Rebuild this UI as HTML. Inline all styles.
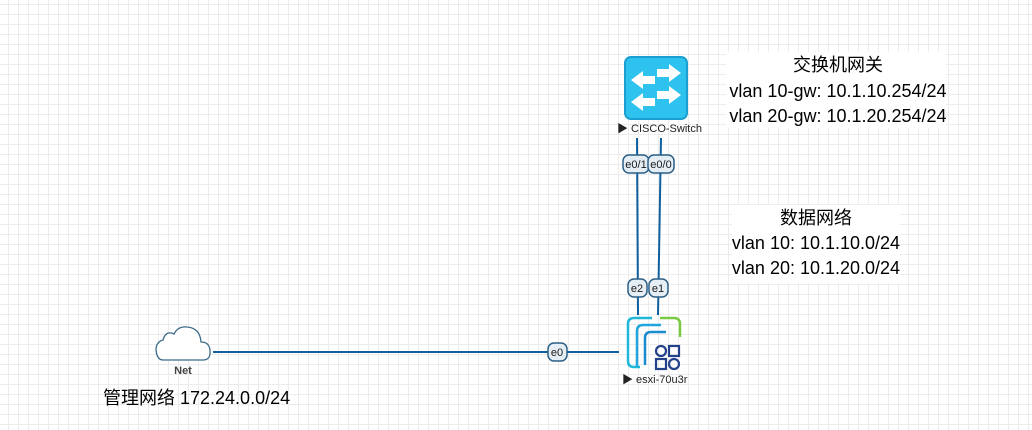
<!DOCTYPE html>
<html><head><meta charset="utf-8"><style>
html,body{margin:0;padding:0;}
body{width:1032px;height:430px;overflow:hidden;background-color:#fff;
background-image:linear-gradient(to right,#ececec 1px,transparent 1px),linear-gradient(to bottom,#ececec 1px,transparent 1px);
background-size:10px 10px;background-position:8px 4px;font-family:"Liberation Sans","Noto Sans CJK SC",sans-serif;}
svg{position:absolute;left:0;top:0;}
</style></head><body>
<svg width="1032" height="430" xmlns="http://www.w3.org/2000/svg" font-family="Liberation Sans, Noto Sans CJK SC, sans-serif">
<rect x="726" y="52" width="220" height="76" fill="#fff"/>
<text x="838" y="71" font-size="18" text-anchor="middle" fill="#000">交换机网关</text>
<text x="838" y="97" font-size="18" text-anchor="middle" fill="#000">vlan 10-gw: 10.1.10.254/24</text>
<text x="838" y="122" font-size="18" text-anchor="middle" fill="#000">vlan 20-gw: 10.1.20.254/24</text>
<rect x="732" y="205" width="168" height="78" fill="#fff"/>
<text x="816" y="224" font-size="18" text-anchor="middle" fill="#000">数据网络</text>
<text x="816" y="249" font-size="18" text-anchor="middle" fill="#000">vlan 10: 10.1.10.0/24</text>
<text x="816" y="274" font-size="18" text-anchor="middle" fill="#000">vlan 20: 10.1.20.0/24</text>
<g stroke="#10609f" stroke-width="2" fill="none">
<line x1="637" y1="138" x2="638" y2="315"/>
<line x1="661" y1="138" x2="658" y2="315"/>
<line x1="213" y1="352" x2="619" y2="352"/>
</g>
<g font-size="11" text-anchor="middle" fill="#1a1a1a" font-weight="bold">
<rect x="623" y="155" width="26" height="18" rx="6" fill="#e6eef5" stroke="#2c5f85" stroke-width="1.5"/>
<rect x="648" y="155" width="26" height="18" rx="6" fill="#e6eef5" stroke="#2c5f85" stroke-width="1.5"/>
<text x="636" y="168" font-weight="normal">e0/1</text><text x="661" y="168" font-weight="normal">e0/0</text>
<rect x="628" y="279" width="19" height="18" rx="6" fill="#e6eef5" stroke="#2c5f85" stroke-width="1.5"/>
<rect x="649" y="279" width="19" height="18" rx="6" fill="#e6eef5" stroke="#2c5f85" stroke-width="1.5"/>
<text x="637" y="292" font-weight="normal">e2</text><text x="658" y="292" font-weight="normal">e1</text>
<rect x="548" y="343" width="19" height="18" rx="6" fill="#e6eef5" stroke="#2c5f85" stroke-width="1.5"/>
<text x="557" y="356" font-weight="normal">e0</text>
</g>
<rect x="625" y="57" width="62" height="62" rx="6" fill="#2ec3ee" stroke="#1a9fd0" stroke-width="2"/>
<g fill="#fff">
<polygon points="631,80 643,71 643,76 655,76 655,84 643,84 643,89"/>
<polygon points="681,73 669,64 669,69 657,69 657,77 669,77 669,82"/>
<polygon points="631,102 643,93 643,98 655,98 655,106 643,106 643,111"/>
<polygon points="681,95 669,86 669,91 657,91 657,99 669,99 669,104"/>
</g>
<text x="617" y="132" font-size="11" fill="#222">▶ CISCO-Switch</text>
<g fill="none" stroke-width="2.5">
<path d="M652,318 H634 Q628,318 628,324 V361 Q628,367 634,367 H640" stroke="#1fb8d9"/>
<path d="M660,318 H674 Q680,318 680,324 V337" stroke="#7ac943"/>
<path d="M637,367 V331 Q637,325 643,325 H661" stroke="#1fa6de"/>
<path d="M645,365 V338 Q645,332 651,332 H666" stroke="#1b8bd0"/>
<circle cx="661" cy="351" r="5" stroke="#24418c" stroke-width="2.2"/>
<rect x="669" y="346" width="10" height="10" stroke="#24418c" stroke-width="2.2"/>
<rect x="656" y="359" width="10" height="10" stroke="#24418c" stroke-width="2.2"/>
<circle cx="674" cy="364" r="5" stroke="#24418c" stroke-width="2.2"/>
</g>
<text x="622" y="383" font-size="11" fill="#222">▶ esxi-70u3r</text>
<path d="M163,360 H203 Q211,360 210,350 Q209,342 201,342 Q200,328 187,327 Q178,326 174,334 Q166,330 163,340 Q156,342 156,350 Q157,360 163,360 Z" fill="#fff" stroke="#3c6c8a" stroke-width="1.3"/>
<text x="183" y="374" font-size="11" text-anchor="middle" fill="#444" font-weight="bold">Net</text>
<text x="103" y="404" font-size="18" fill="#000">管理网络 172.24.0.0/24</text>
</svg>
</body></html>
